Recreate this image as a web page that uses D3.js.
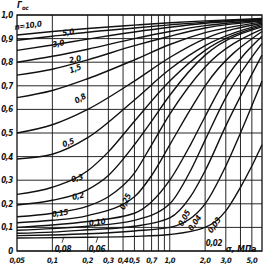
<!DOCTYPE html>
<html>
<head>
<meta charset="utf-8">
<script src="https://cdn.jsdelivr.net/npm/d3@7"></script>
<style>
    body { margin: 0; background: #fff; }
    text {
        font-family: "DejaVu Sans Condensed", "DejaVu Sans", sans-serif;
        font-style: italic;
        font-weight: bold;
        fill: #111;
    }
</style>
</head>
<body>
<div id="chart"></div>
<script>
// x axis: sigma, MPa (log scale)
const sigmaTicks = [0.05, 0.1, 0.2, 0.3, 0.4, 0.5, 0.7, 1.0, 2.0, 3.0, 5.0];
const sigmaTickLabels = ["0,05", "0,1", "0,2", "0,3", "0,4", "0,5", "0,7", "1,0", "2,0", "3,0", "5,0"];
const sigmaGrid = [0.1, 0.2, 0.3, 0.4, 0.5, 0.6, 0.7, 0.8, 0.9, 1, 2, 3, 4, 5];

// y axis: Г_ос
const gammaTicks = [0, 0.1, 0.2, 0.3, 0.4, 0.5, 0.6, 0.7, 0.8, 0.9, 1.0];
const gammaTickLabels = ["0", "0,1", "0,2", "0,3", "0,4", "0,5", "0,6", "0,7", "0,8", "0,9", "1,0"];

// curves [sigma, Г_ос]
const n10  = [[0.05, 0.915], [0.1, 0.93], [0.2, 0.943], [0.5, 0.957], [1, 0.967], [2, 0.975], [6.1, 0.985]];
const n5   = [[0.05, 0.893], [0.1, 0.91], [0.2, 0.927], [0.5, 0.945], [1, 0.958], [2, 0.97], [6.1, 0.982]];
const n3   = [[0.05, 0.85], [0.1, 0.873], [0.2, 0.898], [0.5, 0.928], [1, 0.948], [2, 0.965], [6.1, 0.98]];
const n2   = [[0.05, 0.80], [0.1, 0.825], [0.2, 0.855], [0.5, 0.9], [1, 0.93], [2, 0.955], [6.1, 0.977]];
const n15  = [[0.05, 0.745], [0.1, 0.77], [0.2, 0.81], [0.5, 0.87], [1, 0.91], [2, 0.945], [6.1, 0.974]];
const n08  = [[0.05, 0.65], [0.1, 0.68], [0.2, 0.73], [0.5, 0.81], [1, 0.875], [2, 0.925], [6.1, 0.97]];
const n05  = [[0.05, 0.50], [0.1, 0.535], [0.2, 0.60], [0.5, 0.72], [1, 0.82], [2, 0.9], [6.1, 0.965]];
const n03  = [[0.05, 0.39], [0.1, 0.41], [0.2, 0.48], [0.5, 0.64], [1, 0.77], [2, 0.87], [6.1, 0.96]];
const n02  = [[0.05, 0.24], [0.1, 0.27], [0.2, 0.34], [0.3, 0.42], [0.5, 0.55], [1, 0.72], [2, 0.85], [6.1, 0.955]];
const n015 = [[0.05, 0.195], [0.1, 0.215], [0.2, 0.26], [0.3, 0.32], [0.5, 0.45], [0.7, 0.55], [1, 0.66], [2, 0.83], [6.1, 0.95]];
const n010 = [[0.05, 0.145], [0.1, 0.16], [0.2, 0.19], [0.3, 0.23], [0.5, 0.33], [0.7, 0.45], [1, 0.58], [2, 0.78], [6.1, 0.94]];
const n008 = [[0.05, 0.12], [0.1, 0.13], [0.2, 0.15], [0.5, 0.23], [0.7, 0.32], [1, 0.45], [1.5, 0.6], [2, 0.7], [6.1, 0.93]];
const n006 = [[0.05, 0.10], [0.1, 0.11], [0.2, 0.125], [0.5, 0.16], [1, 0.30], [1.5, 0.45], [2, 0.57], [3, 0.73], [6.1, 0.91]];
const n005 = [[0.05, 0.088], [0.1, 0.095], [0.2, 0.105], [0.5, 0.13], [1, 0.20], [1.5, 0.34], [2, 0.47], [3, 0.65], [6.1, 0.88]];
const n004 = [[0.05, 0.075], [0.1, 0.08], [0.2, 0.09], [0.5, 0.105], [1, 0.14], [1.5, 0.23], [2, 0.34], [3, 0.53], [6.1, 0.83]];
const n003 = [[0.05, 0.065], [0.1, 0.068], [0.2, 0.073], [0.5, 0.085], [1, 0.10], [2, 0.2], [3, 0.36], [4, 0.5], [6.1, 0.72]];
const n002 = [[0.05, 0.055], [0.2, 0.058], [0.5, 0.062], [1, 0.07], [2, 0.1], [3, 0.17], [4, 0.27], [5, 0.36], [6.1, 0.45]];
const curves = [n10, n5, n3, n2, n15, n08, n05, n03, n02, n015, n010, n008, n006, n005, n004, n003, n002];

// curve labels: text, sigma, Г_ос, angle
const labelText  = ["n=10,0", "5,0", "3,0", "2,0", "1,5", "0,8", "0,5", "0,3", "0,2", "0,15", "0,10", "0,08", "0,06", "0,25", "0,05", "0,04", "0,03", "0,02"];
const labelSigma = [0.062, 0.136, 0.112, 0.156, 0.156, 0.172, 0.136, 0.162, 0.165, 0.116, 0.24, 0.123, 0.24, 0.415, 1.32, 1.62, 2.38, 2.38];
const labelGamma = [0.957, 0.928, 0.88, 0.813, 0.774, 0.647, 0.46, 0.31, 0.234, 0.162, 0.123, 0.01, 0.01, 0.21, 0.14, 0.12, 0.11, 0.034];
const labelAngle = [-8, -10, -12, -12, -20, -30, -20, -15, -12, -8, -8, 0, 0, -65, -60, -55, -55, 0];

class Nomogram {

    constructor(parentElement) {
        this.parentElement = parentElement;
        this.initVis();
    }

    initVis() {
        let vis = this;

        vis.width = 268;
        vis.height = 271;

        vis.svg = d3.select("#" + vis.parentElement).append("svg")
            .attr("width", vis.width)
            .attr("height", vis.height);

        vis.x = d3.scaleLog().domain([0.05, 6.1]).range([17, 262]);
        vis.y = d3.scaleLinear().domain([0, 1]).range([251, 15]);

        vis.updateVis();
    }

    updateVis() {
        let vis = this;
        let x0 = vis.x.range()[0], x1 = vis.x.range()[1];
        let y0 = vis.y.range()[0], y1 = vis.y.range()[1];

        // grid
        vis.svg.append("g").selectAll("line")
            .data(sigmaGrid)
            .enter().append("line")
            .attr("x1", d => vis.x(d)).attr("x2", d => vis.x(d))
            .attr("y1", y0).attr("y2", y1)
            .attr("stroke", "#111").attr("stroke-width", 0.9);

        vis.svg.append("g").selectAll("line")
            .data(gammaTicks)
            .enter().append("line")
            .attr("x1", x0).attr("x2", x1)
            .attr("y1", d => vis.y(d)).attr("y2", d => vis.y(d))
            .attr("stroke", "#111").attr("stroke-width", 0.9);

        vis.svg.append("rect")
            .attr("x", x0).attr("y", y1)
            .attr("width", x1 - x0).attr("height", y0 - y1)
            .attr("fill", "none").attr("stroke", "#111").attr("stroke-width", 1.3);

        // curves
        let line = d3.line()
            .curve(d3.curveMonotoneX)
            .x(d => vis.x(d[0]))
            .y(d => vis.y(d[1]));

        vis.svg.append("g").selectAll("path")
            .data(curves)
            .enter().append("path")
            .attr("d", line)
            .attr("fill", "none")
            .attr("stroke", "#111")
            .attr("stroke-width", 1.4);

        // tick labels
        vis.svg.append("g").selectAll("text")
            .data(sigmaTicks)
            .enter().append("text")
            .attr("x", d => vis.x(d))
            .attr("y", 263)
            .attr("text-anchor", "middle")
            .attr("font-size", 7.5)
            .attr("letter-spacing", -0.4)
            .text((d, i) => sigmaTickLabels[i]);

        vis.svg.append("g").selectAll("text")
            .data(gammaTicks)
            .enter().append("text")
            .attr("x", 13)
            .attr("y", d => vis.y(d) + 3)
            .attr("text-anchor", "end")
            .attr("font-size", 8)
            .attr("letter-spacing", -0.3)
            .text((d, i) => gammaTickLabels[i]);

        // axis titles
        let yt = vis.svg.append("text")
            .attr("x", 17).attr("y", 8)
            .attr("font-size", 8.5)
            .text("Г");
        yt.append("tspan").attr("font-size", 6).attr("dy", 2).text("ос");

        vis.svg.append("text")
            .attr("x", vis.x(4.05)).attr("y", 252)
            .attr("text-anchor", "middle")
            .attr("font-size", 8.5)
            .text("σ, МПа");

        // curve labels
        vis.svg.append("g").selectAll("text")
            .data(labelText)
            .enter().append("text")
            .attr("transform", (d, i) => "translate(" + vis.x(labelSigma[i]) + "," + vis.y(labelGamma[i]) + ") rotate(" + labelAngle[i] + ")")
            .attr("text-anchor", "middle")
            .attr("dy", 3)
            .attr("font-size", 8)
            .attr("letter-spacing", -0.3)
            .text(d => d);

        // leader strokes for 0,08 and 0,06
        vis.svg.append("g").selectAll("line")
            .data([0.123, 0.24])
            .enter().append("line")
            .attr("x1", d => vis.x(d) - 1).attr("x2", d => vis.x(d) + 1)
            .attr("y1", vis.y(0.035)).attr("y2", vis.y(0.06))
            .attr("stroke", "#111").attr("stroke-width", 0.8);
    }
}

let nomogram = new Nomogram("chart");
</script>
</body>
</html>
